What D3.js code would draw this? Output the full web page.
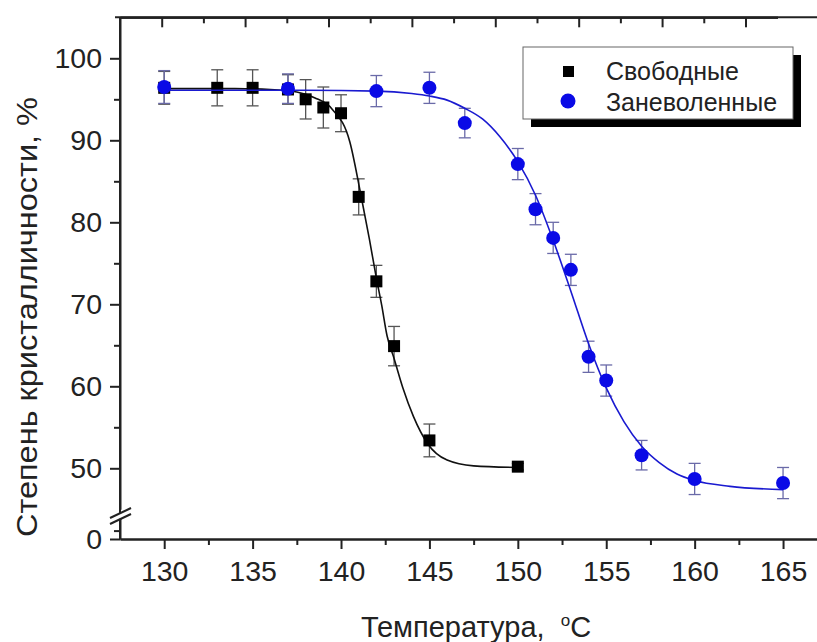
<!DOCTYPE html>
<html>
<head>
<meta charset="utf-8">
<script src="https://cdn.jsdelivr.net/npm/d3@7"></script>
<style>
  body { margin: 0; background: #fff; }
  svg { display: block; font-family: "Liberation Sans", Arial, sans-serif; }
  .axis path, .axis line { stroke: #222; stroke-width: 2; }
  .axis text { font-size: 28.5px; fill: #222; }
</style>
</head>
<body>
<svg id="chart" width="817" height="642"></svg>
<script>
// measured points (temperature, crystallinity %, error)
let freeTemp = [130, 133, 135, 137, 138, 139, 140, 141, 142, 143, 145, 150];
let freeVal  = [96.4, 96.4, 96.4, 96.2, 95.0, 94.0, 93.3, 83.1, 72.8, 64.9, 53.4, 50.2];
let freeErr  = [2.0, 2.2, 2.2, 1.8, 2.4, 2.5, 2.25, 2.2, 1.95, 2.4, 2.0, 0.4];

let boundTemp = [130, 137, 142, 145, 147, 150, 151, 152, 153, 154, 155, 157, 160, 165];
let boundVal  = [96.5, 96.3, 96.0, 96.4, 92.1, 87.1, 81.6, 78.1, 74.2, 63.6, 60.7, 51.6, 48.7, 48.2];
let boundErr  = [2.0, 1.8, 1.9, 1.9, 1.8, 1.9, 1.9, 1.9, 1.9, 1.9, 1.9, 1.8, 1.9, 1.9];

// fitted curves
let freeFitT = [130, 134, 136, 137.5, 138.5, 139.5, 140.5, 141.1, 141.6, 142, 142.3, 142.6, 143, 143.5, 144.1, 144.9, 146, 147.5, 150];
let freeFitV = [96.3, 96.3, 96.2, 95.9, 95.2, 93.8, 89.8, 83.6, 78, 73.2, 69.9, 66.2, 63.4, 59.8, 56.3, 53, 51, 50.3, 50.1];

let boundFitT = [130, 138, 142, 144, 145, 146, 147, 148, 149, 150, 151, 152, 153, 154, 155, 156, 157, 158, 159, 160, 162, 165];
let boundFitV = [96.1, 96.1, 96.0, 95.7, 95.4, 94.9, 93.9, 92.6, 90.4, 87.4, 83.3, 77.8, 71.6, 65.2, 59.8, 55.7, 52.7, 50.7, 49.3, 48.5, 47.8, 47.4];

let xTicks = [130, 135, 140, 145, 150, 155, 160, 165];
let yTicks = [50, 60, 70, 80, 90, 100];
let legendLabels = ["Свободные", "Заневоленные"];

let svg = d3.select("#chart");

let x = d3.scaleLinear().domain([127.5, 166.92]).range([120, 817]);
let xTop = d3.scaleLinear().domain([127.5, 166.92]).range([120, 777.5]);
let yTop = d3.scaleLinear().domain([45, 105]).range([509.3, 17.3]);
let yBot = d3.scaleLinear().domain([0, 10]).range([539, 518]);

let yv = v => v >= 40 ? yTop(v) : yBot(v);

// bottom axis
svg.append("g").attr("class", "axis")
  .attr("transform", "translate(0,539)")
  .call(d3.axisBottom(x).tickValues(xTicks).tickSize(10).tickPadding(12).tickSizeOuter(0).tickFormat(d3.format("d")));
svg.append("g").attr("class", "axis")
  .attr("transform", "translate(0,539)")
  .call(d3.axisBottom(x).tickValues(d3.range(132.5, 166, 5)).tickSize(6).tickSizeOuter(0).tickFormat(""));

// top frame with inward ticks
svg.append("g").attr("class", "axis")
  .attr("transform", "translate(0,17.3)")
  .call(d3.axisBottom(xTop).tickValues(d3.range(130, 166, 5)).tickSize(10).tickSizeOuter(0).tickFormat(""));
svg.append("g").attr("class", "axis")
  .attr("transform", "translate(0,17.3)")
  .call(d3.axisBottom(xTop).tickValues(d3.range(132.5, 166, 5)).tickSize(6).tickSizeOuter(0).tickFormat(""));
svg.append("line").attr("x1", 115).attr("x2", 817).attr("y1", 17.3).attr("y2", 17.3)
  .attr("stroke", "#222").attr("stroke-width", 2);

// left axis, broken
let gy = svg.append("g").attr("class", "axis").attr("transform", "translate(120,0)");
gy.call(d3.axisLeft(yTop).tickValues(yTicks).tickSize(10).tickPadding(8).tickSizeOuter(0));
gy.append("g").call(d3.axisLeft(yTop).tickValues(d3.range(55, 100, 10)).tickSize(6).tickSizeOuter(0).tickFormat(""));
gy.select(".domain").remove();
gy.append("line").attr("y1", yTop(105)).attr("y2", 513).attr("stroke", "#222").attr("stroke-width", 2);

let gy2 = svg.append("g").attr("class", "axis").attr("transform", "translate(120,0)");
gy2.call(d3.axisLeft(yBot).tickValues([0]).tickSize(10).tickPadding(8).tickSizeOuter(0));
gy2.append("g").call(d3.axisLeft(yBot).tickValues([4]).tickSize(6).tickSizeOuter(0).tickFormat(""));
gy2.select(".domain").remove();
gy2.append("line").attr("y1", 519).attr("y2", 539).attr("stroke", "#222").attr("stroke-width", 2);

// break marks
[513, 519].forEach(yb => {
  svg.append("line").attr("x1", 110).attr("x2", 131).attr("y1", yb + 5).attr("y2", yb - 5)
    .attr("stroke", "#222").attr("stroke-width", 2);
});

// axis titles
let xt = svg.append("text").attr("x", 476).attr("y", 637).attr("text-anchor", "middle")
  .attr("font-size", 29).attr("fill", "#222");
xt.append("tspan").text("Температура,\u00a0\u00a0");
xt.append("tspan").attr("font-size", 17).attr("dy", -11).text("o");
xt.append("tspan").attr("dy", 11).text("C");

svg.append("text").attr("transform", "translate(37,317) rotate(-90)")
  .attr("text-anchor", "middle").attr("font-size", 29).attr("fill", "#222")
  .attr("textLength", 440).attr("lengthAdjust", "spacingAndGlyphs")
  .text("Степень кристалличности, %");

let line = d3.line().x(d => x(d[0])).y(d => yv(d[1])).curve(d3.curveMonotoneX);

let series = [
  {t: freeTemp, v: freeVal, e: freeErr, fitT: freeFitT, fitV: freeFitV, color: "#000", line: "#111", err: "#555", shape: "square"},
  {t: boundTemp, v: boundVal, e: boundErr, fitT: boundFitT, fitV: boundFitV, color: "#0a0ae6", line: "#1a1ad0", err: "#6a6aa8", shape: "circle"}
];

series.forEach(s => {
  let pts = s.t.map((t, i) => ({t: t, v: s.v[i], e: s.e[i]}));
  let g = svg.append("g");
  // error bars
  let eb = g.selectAll(".eb").data(pts).enter().append("g").attr("stroke", s.err).attr("stroke-width", 1.3);
  eb.append("line").attr("x1", d => x(d.t)).attr("x2", d => x(d.t)).attr("y1", d => yv(d.v - d.e)).attr("y2", d => yv(d.v + d.e));
  eb.append("line").attr("x1", d => x(d.t) - 6).attr("x2", d => x(d.t) + 6).attr("y1", d => yv(d.v - d.e)).attr("y2", d => yv(d.v - d.e));
  eb.append("line").attr("x1", d => x(d.t) - 6).attr("x2", d => x(d.t) + 6).attr("y1", d => yv(d.v + d.e)).attr("y2", d => yv(d.v + d.e));
  // fit line
  g.append("path").datum(s.fitT.map((t, i) => [t, s.fitV[i]]))
    .attr("d", line).attr("fill", "none").attr("stroke", s.line).attr("stroke-width", 1.6);
  // markers
  if (s.shape === "square") {
    g.selectAll("rect").data(pts).enter().append("rect")
      .attr("x", d => x(d.t) - 6).attr("y", d => yv(d.v) - 6).attr("width", 12).attr("height", 12)
      .attr("fill", s.color);
  } else {
    g.selectAll("circle").data(pts).enter().append("circle")
      .attr("cx", d => x(d.t)).attr("cy", d => yv(d.v)).attr("r", 7).attr("fill", s.color);
  }
});

// legend
let lg = svg.append("g");
lg.append("rect").attr("x", 531).attr("y", 55).attr("width", 270).attr("height", 72).attr("fill", "#000");
lg.append("rect").attr("x", 523).attr("y", 47).attr("width", 270).attr("height", 72)
  .attr("fill", "#fff").attr("stroke", "#666").attr("stroke-width", 1);
lg.append("rect").attr("x", 563).attr("y", 66).attr("width", 11).attr("height", 11).attr("fill", "#000");
lg.append("circle").attr("cx", 568).attr("cy", 101).attr("r", 7.5).attr("fill", "#0a0ae6");
legendLabels.forEach((lab, i) => {
  lg.append("text").attr("x", 606).attr("y", 80 + i * 31).attr("font-size", 25).attr("fill", "#222").text(lab);
});
</script>
</body>
</html>
